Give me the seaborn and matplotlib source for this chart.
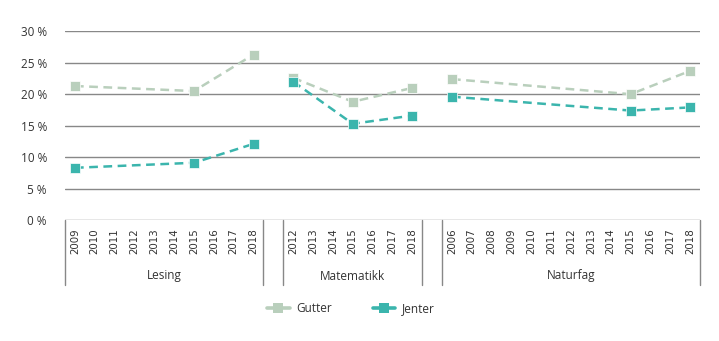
import matplotlib
matplotlib.use("Agg")
import matplotlib.pyplot as plt
import matplotlib.transforms as mtransforms
from matplotlib.lines import Line2D
import seaborn as sns
import pandas as pd

# ---- data ----
groups = ["Lesing", "Matematikk", "Naturfag"]
lesing_years = list(range(2009, 2019))
matte_years = list(range(2012, 2019))
natur_years = list(range(2006, 2019))

lesing_x = [2009, 2015, 2018]
lesing_gutter = [21.3, 20.5, 26.3]
lesing_jenter = [8.3, 9.1, 12.1]

matte_x = [2012, 2015, 2018]
matte_gutter = [22.6, 18.8, 21.0]
matte_jenter = [22.0, 15.3, 16.6]

natur_x = [2006, 2015, 2018]
natur_gutter = [22.4, 20.0, 23.7]
natur_jenter = [19.6, 17.4, 17.9]

series_names = ["Gutter", "Jenter"]
colors = {"Gutter": "#b9cfbc", "Jenter": "#3bb5ad"}
yticks = [0, 5, 10, 15, 20, 25, 30]

# ---- positions on one categorical axis (one blank slot between groups) ----
group_years = [lesing_years, matte_years, natur_years]
offsets = []
pos = 0
for yrs in group_years:
    offsets.append(pos)
    pos += len(yrs) + 1
n_slots = pos - 1

rows = []
for gi, (xs, gv, jv) in enumerate([(lesing_x, lesing_gutter, lesing_jenter),
                                    (matte_x, matte_gutter, matte_jenter),
                                    (natur_x, natur_gutter, natur_jenter)]):
    for x, g, j in zip(xs, gv, jv):
        p = offsets[gi] + group_years[gi].index(x)
        rows.append(dict(group=groups[gi], pos=p, value=g, sex="Gutter"))
        rows.append(dict(group=groups[gi], pos=p, value=j, sex="Jenter"))
df = pd.DataFrame(rows)

sns.set_theme(style="white")
plt.rcParams["font.family"] = ["Open Sans", "DejaVu Sans"]

fig = plt.figure(figsize=(7.19, 3.41), dpi=100)
ax = fig.add_axes([65 / 719, (341 - 220) / 341, 635 / 719, (220 - 31.3) / 341])

for yv in yticks:
    ax.axhline(yv, color="#888888", lw=1.0, zorder=0)

for g in groups:
    sub = df[df["group"] == g]
    sns.lineplot(data=sub, x="pos", y="value", hue="sex", palette=colors,
                 hue_order=series_names, marker="s", markersize=7.5,
                 markeredgecolor="white", markeredgewidth=0.5,
                 linestyle="--", lw=1.8, legend=False, ax=ax, zorder=3,
                 dashes=False)
for line in ax.get_lines():
    if line.get_marker() == "s":
        line.set_linestyle((0, (3.5, 2.2)))

ax.set_xlim(-0.5, n_slots - 0.5)
ax.set_ylim(0, 30)
ax.set_yticks(yticks)
ax.set_yticklabels([f"{v} %" for v in yticks], fontsize=8.5, color="#333333")
ax.tick_params(axis="y", length=0, pad=13)
ax.set_xticks([])
ax.set_xlabel("")
ax.set_ylabel("")
for s in ax.spines.values():
    s.set_visible(False)

trans = mtransforms.blended_transform_factory(ax.transData, ax.transAxes)
px = 1 / (220 - 31.3)
seps = []
for gi, yrs in enumerate(group_years):
    seps += [offsets[gi] - 0.5, offsets[gi] + len(yrs) - 0.5]
for sx in seps:
    ax.plot([sx, sx], [0, -65 * px], transform=trans, color="#888888",
            lw=1.0, clip_on=False)

for gi, yrs in enumerate(group_years):
    for k, yr in enumerate(yrs):
        ax.text(offsets[gi] + k, -8 * px, str(yr), transform=trans,
                rotation=90, ha="center", va="top", fontsize=7.4,
                color="#333333", family="DejaVu Sans")
    center = offsets[gi] + (len(yrs) - 1) / 2
    ax.text(center, -56 * px, groups[gi], transform=trans, ha="center",
            va="center", fontsize=8.5, color="#333333")

handles = [Line2D([0], [0], color=colors[n], lw=2.6, linestyle="-", marker="s",
                  markersize=7.5, markeredgecolor=colors[n], markeredgewidth=0)
           for n in series_names]
fig.legend(handles, series_names, loc="center", bbox_to_anchor=(351 / 719, 1 - 309 / 341),
           ncol=2, frameon=False, fontsize=8.5, handlelength=1.9,
           columnspacing=3.4, handletextpad=0.6, labelcolor="#333333")

fig.savefig("out.png", dpi=100)
